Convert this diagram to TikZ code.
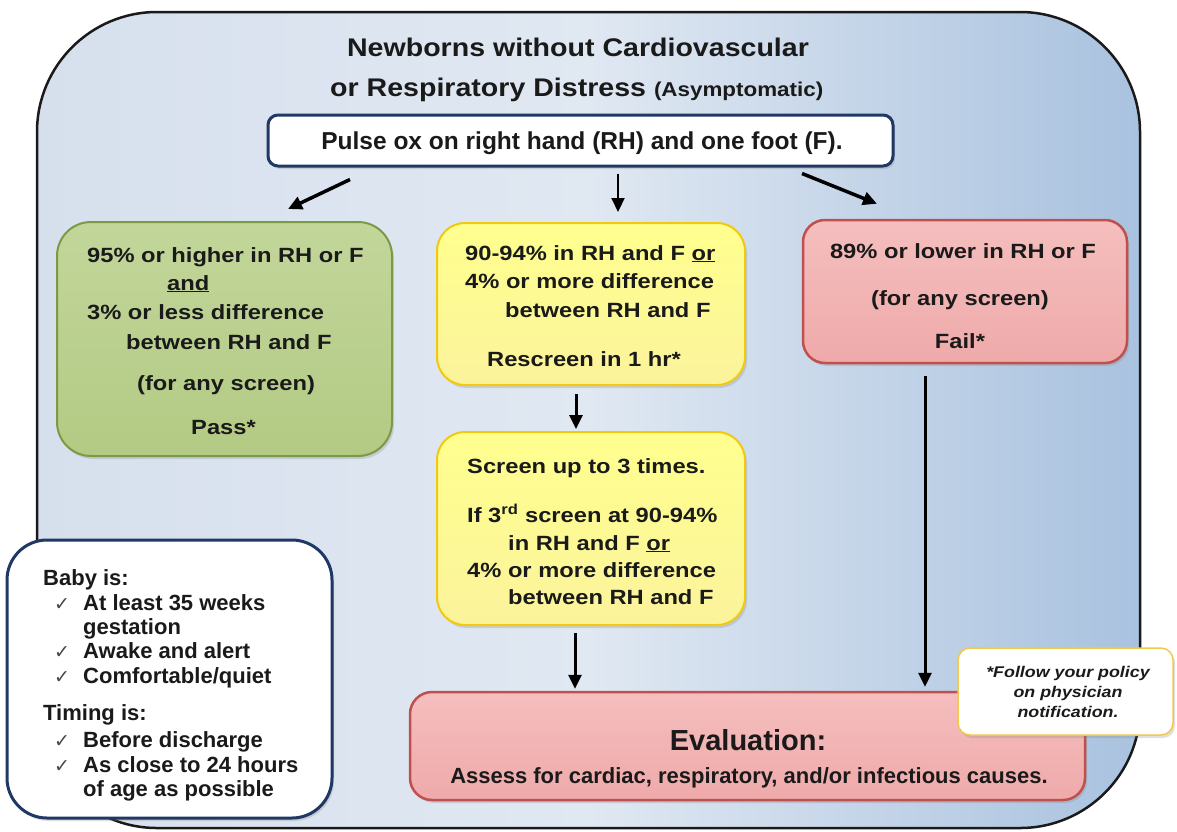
\documentclass[tikz,border=0pt]{standalone}
\usepackage{fontspec}
\setmainfont{Liberation Sans}
\newfontfamily\wf[FakeStretch=1.15]{Liberation Sans}
\newfontfamily\tf[FakeStretch=1.12]{Liberation Sans}
\newfontfamily\cf{Liberation Sans}
\newfontfamily\symf{DejaVu Sans}
\usetikzlibrary{arrows.meta,shadows}
\definecolor{navy}{HTML}{1F3864}
\definecolor{grfill}{HTML}{C2D69A}
\definecolor{grfill2}{HTML}{B3CA84}
\definecolor{grline}{HTML}{7A9A45}
\definecolor{yefill}{HTML}{FFFF8E}
\definecolor{yefill2}{HTML}{FBF39C}
\definecolor{yeline}{HTML}{F2C811}
\definecolor{pkfill}{HTML}{F5BEBE}
\definecolor{pkfill2}{HTML}{EFAAAA}
\definecolor{pkline}{HTML}{C0504D}
\definecolor{bgl}{HTML}{D6E0ED}
\definecolor{bgm}{HTML}{E0E8F2}
\definecolor{bgr}{HTML}{A9C2DF}
\definecolor{gold}{HTML}{F3C84A}
\definecolor{ink}{HTML}{1A1A1A}
\tikzset{
  shad/.style={drop shadow={opacity=0.25,shadow xshift=2pt,shadow yshift=-3pt}},
  frame/.style={draw=ink,line width=2.5pt,rounded corners=120pt,
    left color=bgl,right color=bgr,middle color=bgm,inner sep=0pt},
  greenbox/.style={draw=grline,line width=2pt,rounded corners=34pt,
    top color=grfill,bottom color=grfill2,shad,inner sep=0pt},
  yellowbox/.style={draw=yeline,line width=2pt,rounded corners=28pt,
    top color=yefill,bottom color=yefill2,shad,inner sep=0pt},
  pinkbox/.style={draw=pkline,line width=2.5pt,rounded corners=22pt,
    top color=pkfill,bottom color=pkfill2,shad,inner sep=0pt},
  navybox/.style={draw=navy,line width=3pt,fill=white,shad,inner sep=0pt},
  notebox/.style={draw=gold,line width=1.5pt,fill=white,rounded corners=12pt,shad,inner sep=0pt},
  arr/.style={draw=black,line width=3pt,-{Triangle[length=14pt,width=13pt]}},
  txt/.style={inner sep=0pt,text=ink,font=\wf\bfseries\fontsize{20.6}{23}\selectfont},
  ttl/.style={inner sep=0pt,text=ink,font=\tf\bfseries\fontsize{25.5}{29}\selectfont},
  ctx/.style={inner sep=0pt,text=ink,font=\cf\bfseries\fontsize{22}{25}\selectfont},
  ntx/.style={inner sep=0pt,text=ink,font=\wf\bfseries\itshape\fontsize{15.5}{17}\selectfont},
  chk/.style={inner sep=0pt,text=ink!80,font=\symf\fontsize{19}{21}\selectfont},
}
\begin{document}
\begin{tikzpicture}[x=1pt,y=-1pt]
\useasboundingbox (0,0) rectangle (1177,831);
\fill[white] (0,0) rectangle (1177,831);
% outer frame
\node[frame,minimum width=1103pt,minimum height=816pt] (frame) at (588.5,420) {};
% title
\node[ttl,anchor=base] (t1) at (578,56) {Newborns without Cardiovascular};
\node[ttl,anchor=base west] (t2) at (330,96) {or Respiratory Distress {\fontsize{20}{22}\selectfont (Asymptomatic)}};
% pulse box
\node[navybox,rounded corners=10pt,minimum width=625pt,minimum height=51pt] (pulse) at (580.5,140.5) {};
\node[inner sep=0pt,text=ink,font=\cf\bfseries\fontsize{24.5}{28}\selectfont,anchor=base] (pt) at (582,149) {Pulse ox on right hand (RH) and one foot (F).};
% green pass box
\node[greenbox,minimum width=335pt,minimum height=234pt] (pass) at (224.5,339) {};
\node[txt,anchor=base west] (g1) at (87,262) {95\% or higher in RH or F};
\node[txt,anchor=base west] (g2) at (167,290) {\underline{and}};
\node[txt,anchor=base west] (g3) at (87,319) {3\% or less difference};
\node[txt,anchor=base west] (g4) at (126,349) {between RH and F};
\node[txt,anchor=base west] (g5) at (137,390) {(for any screen)};
\node[txt,anchor=base west] (g6) at (191,434) {Pass*};
% yellow box 1
\node[yellowbox,minimum width=308pt,minimum height=162pt] (y1) at (591,304) {};
\node[txt,anchor=base west] (y1a) at (465,260) {90-94\% in RH and F \underline{or}};
\node[txt,anchor=base west] (y1b) at (465,288) {4\% or more difference};
\node[txt,anchor=base west] (y1c) at (505,317) {between RH and F};
\node[txt,anchor=base west] (y1d) at (487,366) {Rescreen in 1 hr*};
% yellow box 2
\node[yellowbox,minimum width=308pt,minimum height=193pt] (y2) at (591,528.5) {};
\node[txt,anchor=base west] (y2a) at (467,473) {Screen up to 3 times.};
\node[txt,anchor=base west] (y2b) at (467,522) {If 3\textsuperscript{rd} screen at 90-94\%};
\node[txt,anchor=base west] (y2c) at (508,550) {in RH and F \underline{or}};
\node[txt,anchor=base west] (y2d) at (467,577) {4\% or more difference};
\node[txt,anchor=base west] (y2e) at (508,604) {between RH and F};
% fail box
\node[pinkbox,minimum width=324pt,minimum height=143pt] (fail) at (965,291.5) {};
\node[txt,anchor=base] (f1) at (963,258) {89\% or lower in RH or F};
\node[txt,anchor=base] (f2) at (960,305) {(for any screen)};
\node[txt,anchor=base] (f3) at (960,348) {Fail*};
% evaluation box
\node[pinkbox,minimum width=675pt,minimum height=108pt] (eval) at (747.5,746) {};
\node[inner sep=0pt,text=ink,font=\cf\bfseries\fontsize{29}{32}\selectfont,anchor=base] (e1) at (748,750) {Evaluation:};
\node[ctx,anchor=base] (e2) at (749,783) {Assess for cardiac, respiratory, and/or infectious causes.};
% note box
\node[notebox,minimum width=215pt,minimum height=87pt] (note) at (1065.5,691.5) {};
\node[ntx,anchor=base] (n1) at (1068,677) {*Follow your policy};
\node[ntx,anchor=base] (n2) at (1068,697) {on physician};
\node[ntx,anchor=base] (n3) at (1068,717) {notification.};
% baby box
\node[navybox,rounded corners=40pt,minimum width=325pt,minimum height=278pt] (baby) at (169.5,679) {};
\node[ctx,anchor=base west] (b0) at (43,585) {Baby is:};
\node[chk,anchor=base west] (c1) at (54,610) {✓};
\node[ctx,anchor=base west] (b1) at (83,610) {At least 35 weeks};
\node[ctx,anchor=base west] (b2) at (83,634) {gestation};
\node[chk,anchor=base west] (c2) at (54,658) {✓};
\node[ctx,anchor=base west] (b3) at (83,658) {Awake and alert};
\node[chk,anchor=base west] (c3) at (54,683) {✓};
\node[ctx,anchor=base west] (b4) at (83,683) {Comfortable/quiet};
\node[ctx,anchor=base west] (b5) at (43,720) {Timing is:};
\node[chk,anchor=base west] (c4) at (54,747) {✓};
\node[ctx,anchor=base west] (b6) at (83,747) {Before discharge};
\node[chk,anchor=base west] (c5) at (54,772) {✓};
\node[ctx,anchor=base west] (b7) at (83,772) {As close to 24 hours};
\node[ctx,anchor=base west] (b8) at (83,796) {of age as possible};
% arrows
\draw[arr,line width=3.5pt] ([shift={(-230.5pt,-12pt)}]pulse.south) -- ([shift={(63.5pt,12pt)}]pass.north);
\draw[arr,line width=2.2pt] ([shift={(37.5pt,-6pt)}]pulse.south) -- ([shift={(27pt,10pt)}]y1.north);
\draw[arr,line width=3.5pt] ([shift={(221.5pt,-6pt)}]pulse.south) -- ([shift={(-88pt,15pt)}]fail.north);
\draw[arr] ([shift={(-15pt,-8pt)}]y1.south) -- ([shift={(-15pt,2pt)}]y2.north);
\draw[arr] ([shift={(-16pt,-7pt)}]y2.south) -- ([shift={(-172.5pt,2pt)}]eval.north);
\draw[arr] ([shift={(-40pt,-12pt)}]fail.south) -- ([shift={(177.5pt,4pt)}]eval.north);
\end{tikzpicture}
\end{document}
